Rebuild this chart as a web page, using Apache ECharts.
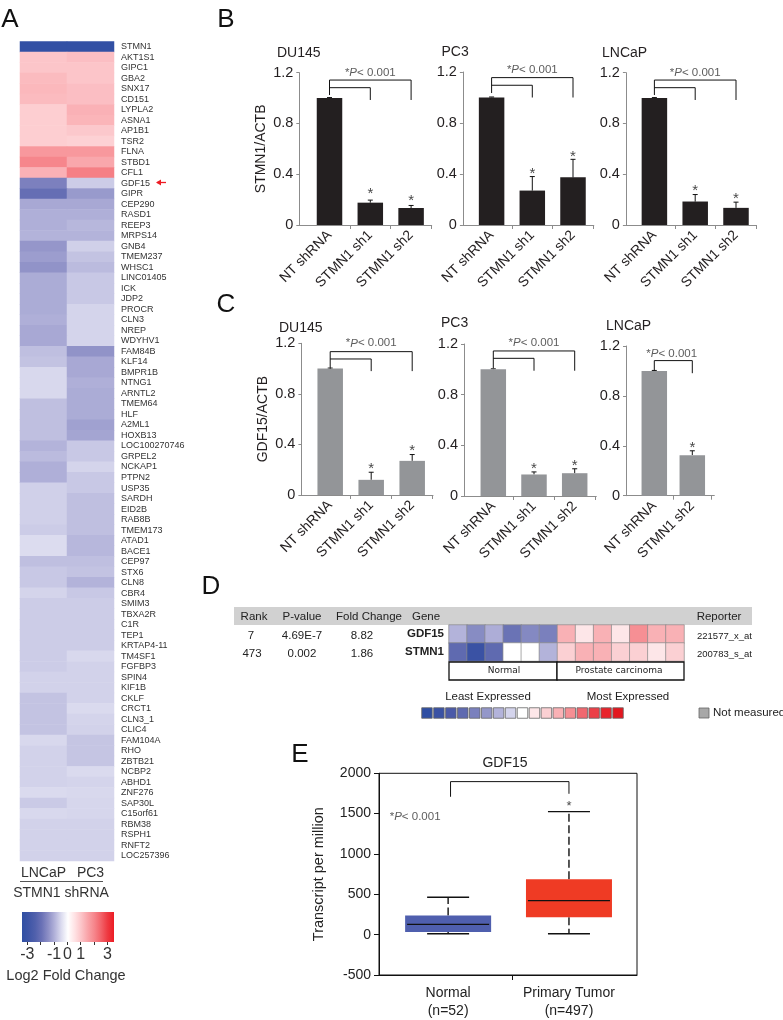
<!DOCTYPE html>
<html><head><meta charset="utf-8">
<style>html,body{margin:0;padding:0;background:#fff}#c{width:783px;height:1020px}</style>
<script src="https://cdn.jsdelivr.net/npm/echarts@6/dist/echarts.min.js"></script>
</head><body><div id="c"></div>
<script>
// ---------- Panel A data ----------
const genes=['STMN1','AKT1S1','GIPC1','GBA2','SNX17','CD151','LYPLA2','ASNA1','AP1B1','TSR2','FLNA','STBD1','CFL1','GDF15','GIPR','CEP290','RASD1','REEP3','MRPS14','GNB4','TMEM237','WHSC1','LINC01405','ICK','JDP2','PROCR','CLN3','NREP','WDYHV1','FAM84B','KLF14','BMPR1B','NTNG1','ARNTL2','TMEM64','HLF','A2ML1','HOXB13','LOC100270746','GRPEL2','NCKAP1','PTPN2','USP35','SARDH','EID2B','RAB8B','TMEM173','ATAD1','BACE1','CEP97','STX6','CLN8','CBR4','SMIM3','TBXA2R','C1R','TEP1','KRTAP4-11','TM4SF1','FGFBP3','SPIN4','KIF1B','CKLF','CRCT1','CLN3_1','CLIC4','FAM104A','RHO','ZBTB21','NCBP2','ABHD1','ZNF276','SAP30L','C15orf61','RBM38','RSPH1','RNFT2','LOC257396'];
const lncapFC=[-3.4,1,1,1.15,1.2,1.15,.85,.85,.85,.85,1.7,2,1.3,-1.75,-2.1,-1.15,-1.05,-1.05,-1,-1.4,-1.3,-1.45,-1.1,-1.1,-1.1,-1.1,-1.05,-1.15,-1.15,-.85,-.8,-.55,-.55,-.55,-.85,-.85,-.85,-.85,-1,-.9,-1.05,-1.05,-.65,-.65,-.65,-.65,-.7,-.5,-.5,-.85,-.75,-.75,-.6,-.7,-.7,-.7,-.7,-.7,-.7,-.7,-.62,-.62,-.8,-.8,-.8,-.8,-.55,-.62,-.62,-.62,-.62,-.52,-.72,-.55,-.62,-.62,-.62,-.62];
const pc3FC=[-3.4,1.1,1,1,1.1,1.1,1.3,1.25,.95,.8,1.7,1.45,2.1,-.7,-1.35,-1.15,-1.05,-.95,-1,-.65,-.8,-.9,-.75,-.75,-.75,-.6,-.6,-.6,-.6,-1.45,-1.15,-1.15,-1.05,-1.1,-1.1,-1.1,-1.25,-1.2,-.75,-.75,-.6,-.75,-.75,-.85,-.85,-.85,-.85,-.95,-.95,-.85,-.8,-1,-.75,-.7,-.7,-.7,-.7,-.7,-.55,-.62,-.62,-.62,-.62,-.52,-.6,-.62,-.78,-.78,-.78,-.52,-.6,-.55,-.57,-.57,-.62,-.62,-.62,-.62];
const heatColumns=['LNCaP','PC3'];
const fcTicks=[-3,-2,-1,0,1,2,3];
const fcLabels=[-3,-1,0,1,3];
// ---------- Panels B / C data ----------
const knockdownCats=['NT shRNA','STMN1 sh1','STMN1 sh2'];
const lncapCats=['NT shRNA','STMN1 sh2'];
const stmn1Du145=[1,.176,.134],stmn1Du145Err=[.004,.02,.02];
const stmn1Pc3=[1,.27,.375],   stmn1Pc3Err=[.004,.11,.14];
const stmn1Lncap=[1,.185,.135],stmn1LncapErr=[.004,.055,.045];
const gdf15Du145=[1,.12,.27],  gdf15Du145Err=[.004,.06,.05];
const gdf15Pc3=[1,.17,.18],    gdf15Pc3Err=[.004,.02,.035];
const gdf15Lncap=[1,.325],     gdf15LncapErr=[.004,.035];
// ---------- Panel D data ----------
const dHeaders=['Rank','P-value','Fold Change','Gene','Reporter'];
const dRanks=['7','473'], dPvalues=['4.69E-7','0.002'], dFolds=['8.82','1.86'];
const dGenes=['GDF15','STMN1'], dReporters=['221577_x_at','200783_s_at'];
const dGdf15=[-2,-3.5,-2.2,-4.6,-3.6,-4,3,1,3,1,4,3,3];
const dStmn1=[-5,-7,-5,0,0,-2,2,3,3,2,2,1,2];
const dLevels=[-8,-7,-6,-5,-4,-3,-2,-1,0,1,2,3,4,5,6,7,8];
// ---------- Panel E data ----------
const tpmNormal=[1,12,33,127,237,463];   // x,min,q1,median,q3,max
const tpmTumor=[2,12,217,422,688,1525];
const tpmLabels={1:'Normal\n(n=52)',2:'Primary Tumor\n(n=497)'};

const FONT='"Liberation Sans",Arial,sans-serif';
const INK='#231f20';
const fcColors=['#2f4fa3','#3e55a6','#5060ac','#6a71b6','#8d8fc6','#b3b3da','#dcdcef','#ffffff','#ffe3e5','#fcc5c9','#f9a4a9','#f6868c','#f2636a','#ee3a42','#ec1c24'];
const levelColors=['#2f4ea3','#3a52a4','#4b5aa8','#5f6ab0','#7a80bd','#9497c9','#b3b3da','#d4d4ec','#ffffff','#fde6e8','#fbd0d3','#f9b1b5','#f68f94','#f06870','#ec4048','#e9232b','#e3171f'];

const grid=[],xAxis=[],yAxis=[],series=[];
function addGrid(g,x,y){grid.push(g);xAxis.push(Object.assign({gridIndex:grid.length-1},x));yAxis.push(Object.assign({gridIndex:grid.length-1},y));return grid.length-1;}

// ---- bars ---- (L,R = axis ends in px, c0 = first bar centre, d = bar spacing)
const barPanels=[
 {L:299.3,R:431.7,top:72.7,h:152.3,c0:329.5,d:40.8,cats:knockdownCats,v:stmn1Du145,e:stmn1Du145Err,c:INK,name:'STMN1/ACTB',
  br:[[[0,1.024],[0,1.142],[2,1.142],[2,.985]],[[0,1.082],[1,1.082],[1,.985]]],stars:[[1,.262],[2,.205]],p:[1,1.2],ds:true},
 {L:462.9,R:593.8,top:72,h:153,c0:491.6,d:40.7,cats:knockdownCats,v:stmn1Pc3,e:stmn1Pc3Err,c:INK,
  br:[[[0,1.035],[0,1.156],[2,1.156],[2,1]],[[0,1.096],[1,1.096],[1,1]]],stars:[[1,.417],[2,.553]],p:[1,1.22],ds:true},
 {L:625.9,R:756.4,top:72.7,h:152.3,c0:654.4,d:40.8,cats:knockdownCats,v:stmn1Lncap,e:stmn1LncapErr,c:INK,
  br:[[[0,1.024],[0,1.142],[2,1.142],[2,.985]],[[0,1.082],[1,1.082],[1,.985]]],stars:[[1,.284],[2,.223]],p:[1,1.2],ds:true},
 {L:301.4,R:433,top:343.3,h:151.7,c0:330.2,d:41,cats:knockdownCats,v:gdf15Du145,e:gdf15Du145Err,c:'#939598',name:'GDF15/ACTB',
  br:[[[0,1],[0,1.134],[2,1.134],[2,.98]],[[0,1.076],[1,1.076],[1,.98]]],stars:[[1,.224],[2,.364]],p:[1,1.2]},
 {L:464,R:596.3,top:344,h:152,c0:493.3,d:40.7,cats:knockdownCats,v:gdf15Pc3,e:gdf15Pc3Err,c:'#939598',
  br:[[[0,1.01],[0,1.145],[2,1.145],[2,.989]],[[0,1.087],[1,1.087],[1,.989]]],stars:[[1,.229],[2,.253]],p:[1,1.206]},
 {L:626,R:714.3,top:346,h:149.7,c0:654.3,d:38,cats:lncapCats,v:gdf15Lncap,e:gdf15LncapErr,c:'#939598',
  br:[[[0,1.002],[0,1.083],[1,1.083],[1,.982]]],stars:[[1,.398]],p:[.458,1.136]}
];
barPanels.forEach(P=>{
  const gi=addGrid({left:P.L,top:P.top,width:P.R-P.L,height:P.h},
   {type:'value',min:(P.L-P.c0)/P.d,max:(P.R-P.c0)/P.d,splitLine:{show:false},
    axisLine:{onZero:false,lineStyle:{color:'#8c8c8c',width:1}},
    axisTick:{show:true,customValues:P.cats.map((_,i)=>i+.5),length:4,lineStyle:{color:'#8c8c8c'}},
    axisLabel:{customValues:P.cats.map((_,i)=>i),rotate:45,fontFamily:FONT,fontSize:14,color:INK,margin:8,formatter:v=>P.cats[v]||''}},
   {type:'value',min:0,max:1.2,interval:.4,splitLine:{show:false},axisLine:{show:true,onZero:false,lineStyle:{color:'#8c8c8c',width:1}},axisTick:{show:true,length:3,lineStyle:{color:'#8c8c8c'}},
    axisLabel:{fontFamily:FONT,fontSize:14.5,color:INK,margin:6,formatter:v=>v===0?'0':v.toFixed(1)},
    name:P.name||'',nameLocation:'middle',nameGap:31,nameRotate:90,nameTextStyle:{fontFamily:FONT,fontSize:14,color:INK}});
  const base={xAxisIndex:gi,yAxisIndex:gi};
  series.push(Object.assign({type:'bar',data:P.v.map((v,i)=>[i,v]),barWidth:25.5,itemStyle:{color:P.c},silent:true},base));
  series.push(Object.assign({type:'custom',clip:false,silent:true,data:P.v.map((v,i)=>[i,v-(P.ds?P.e[i]:0),v+P.e[i],v]),encode:{x:0,y:[1,2,3]},
    renderItem(params,api){
      const x=api.value(0),lo=api.coord([x,api.value(1)]),hi=api.coord([x,api.value(2)]),mid=api.coord([x,api.value(3)]);
      const st={stroke:'#111',lineWidth:1,fill:null},inner={stroke:'#6a6a6a',lineWidth:1,fill:null};
      return {type:'group',children:[
        {type:'line',shape:{x1:mid[0],y1:mid[1],x2:hi[0],y2:hi[1]},style:st},
        {type:'line',shape:{x1:hi[0]-2.5,y1:hi[1],x2:hi[0]+2.5,y2:hi[1]},style:st},
        {type:'line',shape:{x1:mid[0],y1:mid[1],x2:lo[0],y2:lo[1]},style:inner},
        {type:'line',shape:{x1:lo[0]-2.5,y1:lo[1],x2:lo[0]+2.5,y2:lo[1]},style:lo[1]>mid[1]+.5?inner:{stroke:'transparent'}}]};
    }},base));
  P.br.forEach(b=>series.push(Object.assign({type:'line',data:b,showSymbol:false,symbol:'none',clip:false,silent:true,lineStyle:{color:'#111',width:1}},base)));
  series.push(Object.assign({type:'scatter',clip:false,silent:true,symbolSize:1,itemStyle:{color:'transparent'},data:P.stars,
    label:{show:true,position:'inside',formatter:'*',fontFamily:FONT,fontSize:15,color:'#111',offset:[0,2]}},base));
  series.push(Object.assign({type:'scatter',clip:false,silent:true,symbolSize:1,itemStyle:{color:'transparent'},data:[P.p],
    label:{show:true,position:'inside',formatter:'{a|*}{b|P}{a|< 0.001}',rich:{a:{fontFamily:FONT,fontSize:11.5,color:'#333'},b:{fontFamily:FONT,fontSize:11.5,fontStyle:'italic',color:'#333'}}}},base));
});

// ---- A heatmap ----
const hi=addGrid({left:20,top:41.5,width:94,height:819.5},
 {type:'category',data:heatColumns,axisLine:{show:false},axisTick:{show:false},axisLabel:{interval:0,hideOverlap:false,fontFamily:FONT,fontSize:14,color:'#333',margin:5}},
 {type:'category',inverse:true,position:'right',data:genes,axisLine:{show:false},axisTick:{show:false},splitLine:{show:false},axisLabel:{interval:0,fontFamily:FONT,fontSize:9,color:'#333',margin:7}});
const heatSeriesIndex=series.length;
series.push({type:'heatmap',xAxisIndex:hi,yAxisIndex:hi,silent:true,itemStyle:{borderWidth:0},
  data:genes.flatMap((g,i)=>[[0,i,lncapFC[i]],[1,i,pc3FC[i]]])});
// colour-bar axis
addGrid({left:22,top:942,width:92,height:0},
 {type:'value',min:-3.4,max:3.5,axisLine:{show:false},splitLine:{show:false},
  axisTick:{show:true,customValues:fcTicks,length:3,lineStyle:{color:'#333'}},
  axisLabel:{customValues:fcLabels,fontFamily:FONT,fontSize:16,color:'#333',margin:5,formatter:v=>String(v)}},
 {type:'value',show:false});

// ---- D heat ----
const dh=addGrid({left:449,top:625,width:235,height:36},
 {type:'category',data:dGdf15.map((_,i)=>i),show:false},
 {type:'category',inverse:true,data:dGenes,axisLine:{show:false},axisTick:{show:false},axisLabel:{fontFamily:FONT,fontSize:11.5,fontWeight:'bold',color:'#222',margin:5}});
const dHeatIndex=series.length;
series.push({type:'heatmap',xAxisIndex:dh,yAxisIndex:dh,silent:true,itemStyle:{borderColor:'#8a8a8a',borderWidth:.7},
  data:dGdf15.map((v,i)=>[i,0,v]).concat(dStmn1.map((v,i)=>[i,1,v]))});
const dl=addGrid({left:421,top:705,width:203,height:16},
 {type:'value',min:0,max:dLevels.length,show:false},
 {type:'value',min:0,max:1,show:false});
const dLegendIndex=series.length;
series.push({type:'scatter',xAxisIndex:dl,yAxisIndex:dl,silent:true,symbol:'rect',symbolSize:10.5,itemStyle:{borderColor:'#666',borderWidth:.8,opacity:1},
  data:dLevels.map((v,i)=>[i+.5,.5,v]),encode:{x:0,y:1}});

// ---- E ----
const eg=addGrid({left:379,top:773.3,width:258,height:203.4,show:true,borderColor:'#111',borderWidth:1,backgroundColor:'transparent'},
 {type:'value',min:.428,max:2.563,splitLine:{show:false},axisLine:{onZero:false,lineStyle:{color:'#111'}},
  axisTick:{show:true,customValues:[1.53],length:5,lineStyle:{color:'#111'}},
  axisLabel:{customValues:[1,2],fontFamily:FONT,fontSize:14,lineHeight:18,color:'#222',margin:9,formatter:v=>tpmLabels[v]||''}},
 {type:'value',min:-500,max:2000,interval:500,splitLine:{show:false},axisLine:{show:true,onZero:false,lineStyle:{color:'#111'}},
  axisTick:{show:true,length:5,lineStyle:{color:'#111'}},
  axisLabel:{fontFamily:FONT,fontSize:14,color:'#222',margin:8,formatter:v=>String(v)},
  name:'Transcript per million',nameLocation:'middle',nameGap:53,nameRotate:90,nameTextStyle:{fontFamily:FONT,fontSize:14.5,color:'#222'}});
const boxColors={1:'#4f5fae',2:'#ef3b24'};
series.push({type:'custom',xAxisIndex:eg,yAxisIndex:eg,silent:true,data:[tpmNormal,tpmTumor],encode:{x:0,y:[1,2,3,4,5]},
  renderItem(params,api){
    const x=api.value(0),cx=api.coord([x,0])[0];
    const Y=k=>api.coord([x,api.value(k)])[1];
    const [mn,q1,md,q3,mx]=[Y(1),Y(2),Y(3),Y(4),Y(5)];
    const solid={stroke:'#111',lineWidth:1.4,fill:null},dash={stroke:'#111',lineWidth:1.4,fill:null,lineDash:[8,3.5]};
    const L=(a,b,c,d,s)=>({type:'line',shape:{x1:a,y1:b,x2:c,y2:d},style:s});
    return {type:'group',children:[
      L(cx,q3,cx,mx,dash),L(cx,q1,cx,mn,dash),
      L(cx-21,mx,cx+21,mx,solid),L(cx-21,mn,cx+21,mn,solid),
      {type:'rect',shape:{x:cx-43,y:q3,width:86,height:q1-q3},style:{fill:boxColors[x]}},
      L(cx-41,md,cx+41,md,solid)]};
  }});
series.push({type:'line',xAxisIndex:eg,yAxisIndex:eg,data:[[1.02,1709],[1.02,1897],[2,1897],[2,1746]],showSymbol:false,symbol:'none',silent:true,lineStyle:{color:'#111',width:1}});
series.push({type:'scatter',xAxisIndex:eg,yAxisIndex:eg,silent:true,symbolSize:1,itemStyle:{color:'transparent'},data:[[2,1620]],
  label:{show:true,position:'inside',formatter:'*',fontFamily:FONT,fontSize:13,color:'#111',offset:[0,2]}});
series.push({type:'scatter',xAxisIndex:eg,yAxisIndex:eg,silent:true,symbolSize:1,itemStyle:{color:'transparent'},data:[[.727,1466]],
  label:{show:true,position:'inside',formatter:'{a|*}{b|P}{a|< 0.001}',rich:{a:{fontFamily:FONT,fontSize:11.5,color:'#333'},b:{fontFamily:FONT,fontSize:11.5,fontStyle:'italic',color:'#333'}}}});

// ---- texts & decorations ----
const T=(text,x,y,size,o={})=>({type:'text',x,y,z:20,style:Object.assign({text,font:(o.w||'normal')+' '+size+'px '+(o.f||FONT),fill:o.c||'#222',align:o.a||'center',verticalAlign:'middle',textAlign:o.a||'center',textBaseline:'middle'},o.s||{})});
const g=[];
[['A',10,20],['B',226,20],['C',226,305],['D',211,587],['E',300,755]].forEach(a=>g.push(T(a[0],a[1],a[2],26,{c:'#111'})));
[['DU145',277,53],['PC3',441.5,52],['LNCaP',602,53],['DU145',279,328],['PC3',441,323],['LNCaP',606,326]].forEach(a=>g.push(T(a[0],a[1],a[2],14,{a:'left',c:INK})));
g.push({type:'line',z:20,shape:{x1:20,y1:881.5,x2:103,y2:881.5},style:{stroke:'#555',lineWidth:1.2}});
g.push(T('STMN1 shRNA',61,893,14,{c:'#333'}));
g.push(T('Log2 Fold Change',66,976,14.5,{c:'#333'}));
g.push({type:'rect',z:5,shape:{x:22,y:912,width:92,height:30},style:{fill:new echarts.graphic.LinearGradient(0,0,1,0,fcColors.map((c,i)=>({offset:i/(fcColors.length-1),color:c})))}});
g.push({type:'line',z:20,shape:{x1:157,y1:182.5,x2:166,y2:182.5},style:{stroke:'#ed1c24',lineWidth:1.3}});
g.push({type:'polygon',z:20,shape:{points:[[156,182.5],[161,179.5],[161,185.5]]},style:{fill:'#ed1c24'}});
// D table
g.push({type:'rect',z:-1,shape:{x:234,y:607,width:518,height:18},style:{fill:'#d1d1d1'}});
const headX=[254,302,369,426,719];
dHeaders.forEach((h,i)=>g.push(T(h,headX[i],617,11.5)));
[636,654].forEach((y,i)=>{
  g.push(T(dRanks[i],i?252:251,y,11.5));g.push(T(dPvalues[i],302,y,11.5));g.push(T(dFolds[i],362,y,11.5));
  g.push(T(dReporters[i],697,y,9.5,{a:'left'}));
});
g.push({type:'rect',z:20,shape:{x:449,y:662,width:108,height:18},style:{fill:'#fff',stroke:'#111',lineWidth:1.3}});
g.push({type:'rect',z:20,shape:{x:557,y:662,width:127,height:18},style:{fill:'#fff',stroke:'#111',lineWidth:1.3}});
g.push(T('Normal',504,671,9,{f:'"DejaVu Sans",sans-serif'}));
g.push(T('Prostate carcinoma',619,671,9,{f:'"DejaVu Sans",sans-serif'}));
g.push(T('Least Expressed',488,697,11.5));
g.push(T('Most Expressed',628,697,11.5));
g.push({type:'rect',z:20,shape:{x:699,y:708,width:10,height:10},style:{fill:'#a8a8a8',stroke:'#666',lineWidth:.8}});
g.push(T('Not measured',713,713,11.5,{a:'left'}));
g.push(T('GDF15',505,763,14));

const chart=echarts.init(document.getElementById('c'),null,{renderer:'canvas'});
chart.setOption({animation:false,backgroundColor:'#fff',tooltip:{show:false},grid,xAxis,yAxis,series,graphic:{elements:g},
 visualMap:[
  {type:'continuous',show:false,seriesIndex:heatSeriesIndex,dimension:2,min:-3.5,max:3.5,inRange:{color:fcColors}},
  {type:'continuous',show:false,seriesIndex:[dHeatIndex,dLegendIndex],dimension:2,min:-8,max:8,inRange:{color:levelColors}}
 ]});
</script></body></html>
